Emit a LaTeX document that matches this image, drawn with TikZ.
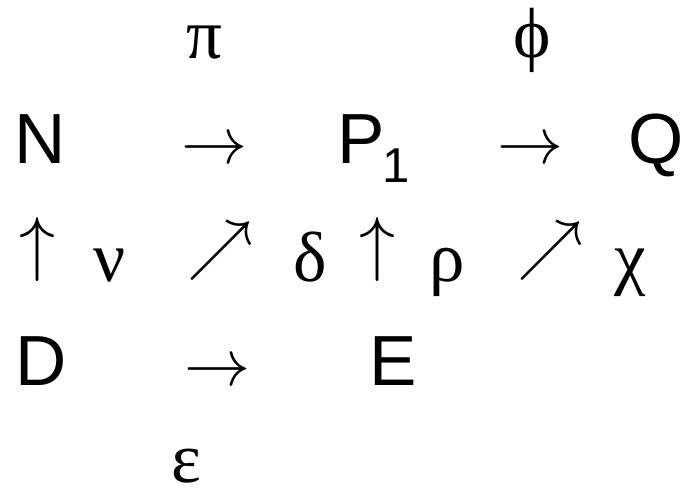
\RequirePackage{fix-cm}
\documentclass[tikz,border=0pt]{standalone}
\usepackage{fontspec}
\setmainfont{Liberation Sans}
\newfontfamily\grk{Liberation Serif}
\begin{document}
\begin{tikzpicture}[x=1pt,y=-1pt,
  lat/.style={font=\fontsize{71}{75}\selectfont, anchor=base, inner sep=0pt},
  gr/.style={font=\fontsize{71}{75}\selectfont\grk, anchor=base, inner sep=0pt},
  ar/.style={font=\fontsize{66}{70}\selectfont, anchor=base, inner sep=0pt},
  upar/.style={font=\fontsize{72}{76}\selectfont, anchor=center, inner sep=0pt},
  near/.style={font=\fontsize{66}{70}\selectfont, anchor=center, inner sep=0pt}]
\useasboundingbox (0,0) rectangle (687,493);
% row 1
\node[gr] (pi) at (204,58) {π};
\node[gr] (phi) at (532,57) {\char"03D5};
% row 2
\node[lat] (N) at (40,163) {N};
\node[ar] (a1) at (214,163) {$\rightarrow$};
\node[lat, anchor=base west] (P) at (337,163) {P\kern-2pt\raisebox{-19pt}{\fontsize{49}{52}\selectfont 1}};
\node[ar] (a2) at (530,163) {$\rightarrow$};
\node[lat] (Q) at (656,163) {Q};
% row 3
\node[upar] (u1) at (38,249) {$\uparrow$};
\node[gr] (nu) at (110,281) {ν};
\node[near] (ne1) at (220,251) {$\nearrow$};
\node[gr] (delta) at (310,281) {δ};
\node[upar] (u2) at (377,249) {$\uparrow$};
\node[gr] (rho) at (447,281) {ρ};
\node[near] (ne2) at (550,251) {$\nearrow$};
\node[gr] (chi) at (630,281) {χ};
% row 4
\node[lat] (D) at (41,385) {D};
\node[ar] (a3) at (217,385) {$\rightarrow$};
\node[lat] (E) at (393,385) {E};
% row 5
\node[gr] (eps) at (186,482) {ε};
\end{tikzpicture}
\end{document}
